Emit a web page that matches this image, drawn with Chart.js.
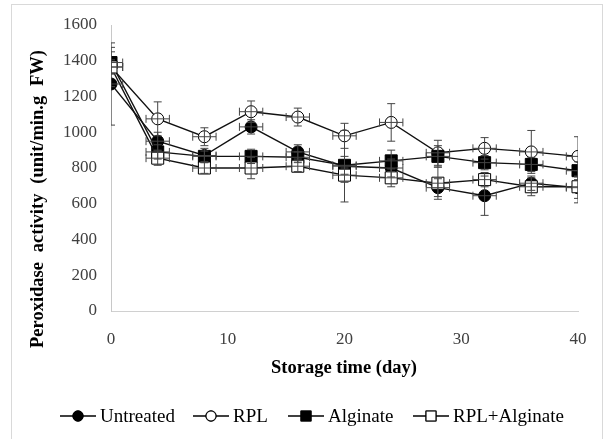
<!DOCTYPE html>
<html>
<head>
<meta charset="utf-8">
<script src="https://cdn.jsdelivr.net/npm/chart.js@4"></script>
<style>
  html, body { margin: 0; padding: 0; background: #fff; }
  #wrap { position: relative; width: 606px; height: 439px; }
  #frame { position: absolute; left: 11px; top: 4px; width: 592px; height: 440px; border: 1px solid #d9d9d9; box-sizing: border-box; }
  canvas { position: absolute; left: 0; top: 0; }
</style>
</head>
<body>
<div id="wrap">
  <div id="frame"></div>
  <canvas id="chart" width="606" height="439"></canvas>
</div>
<script>
// Storage days and peroxidase activity (unit/min.g FW)
const days = [0, 4, 8, 12, 16, 20, 24, 28, 32, 36, 40];
const untreated    = [1270, 950, 870, 1030, 890, 810, 800, 690, 645, 715, 690];
const untreatedErr = [230, 50, 40, 40, 40, 200, 50, 50, 110, 40, 60];
const rpl          = [1365, 1075, 975, 1115, 1085, 980, 1055, 885, 910, 890, 865];
const rplErr       = [110, 95, 50, 60, 50, 70, 105, 70, 60, 120, 110];
const alginate     = [1390, 890, 865, 865, 860, 815, 840, 865, 830, 820, 785];
const alginateErr  = [60, 40, 30, 40, 30, 50, 60, 60, 40, 40, 50];
const rplAlg       = [1365, 855, 800, 800, 810, 760, 745, 715, 735, 695, 695];
const rplAlgErr    = [40, 40, 30, 60, 30, 40, 50, 90, 40, 50, 90];
const dayErr = 1;

const xTicks = [0, 10, 20, 30, 40];
const yTicks = [0, 200, 400, 600, 800, 1000, 1200, 1400, 1600];

const SERIF = '"Liberation Serif", "Times New Roman", serif';

function points(values) {
  return values.map((v, i) => ({ x: days[i], y: v }));
}

function series(label, values, errs, style, filled, order) {
  return {
    label: label,
    data: points(values),
    yErr: errs,
    showLine: true,
    borderColor: '#111',
    borderWidth: 1.4,
    pointStyle: style,
    pointRadius: style === 'rect' ? 8.5 : 6,
    pointBackgroundColor: filled ? '#000' : '#fff',
    pointBorderColor: '#000',
    pointBorderWidth: 1,
    order: order
  };
}

// error bars (vertical and horizontal) drawn on top of the markers
const errorBars = {
  id: 'errorBars',
  afterDatasetsDraw(chart) {
    const { ctx, chartArea, scales: { x, y } } = chart;
    ctx.save();
    ctx.beginPath();
    ctx.rect(chartArea.left, 0, chartArea.right - chartArea.left, chart.height);
    ctx.clip();
    ctx.strokeStyle = '#444';
    ctx.lineWidth = 1;
    const cap = 4;
    chart.data.datasets.forEach(ds => {
      ds.data.forEach((p, j) => {
        const px = x.getPixelForValue(p.x);
        const py = y.getPixelForValue(p.y);
        const top = y.getPixelForValue(p.y + ds.yErr[j]);
        const bot = y.getPixelForValue(p.y - ds.yErr[j]);
        const l = x.getPixelForValue(p.x - dayErr);
        const r = x.getPixelForValue(p.x + dayErr);
        ctx.beginPath();
        ctx.moveTo(px, top); ctx.lineTo(px, bot);
        ctx.moveTo(px - cap, top); ctx.lineTo(px + cap, top);
        ctx.moveTo(px - cap, bot); ctx.lineTo(px + cap, bot);
        ctx.moveTo(l, py); ctx.lineTo(r, py);
        ctx.moveTo(l, py - cap); ctx.lineTo(l, py + cap);
        ctx.moveTo(r, py - cap); ctx.lineTo(r, py + cap);
        ctx.stroke();
      });
    });
    ctx.restore();
  }
};

// axis titles and the bottom legend
const decorations = {
  id: 'decorations',
  afterDraw(chart) {
    const { ctx } = chart;
    ctx.save();
    ctx.fillStyle = '#000';
    ctx.textBaseline = 'middle';

    // x title
    ctx.font = 'bold 18.5px ' + SERIF;
    ctx.textAlign = 'center';
    ctx.fillText('Storage time (day)', 344, 368);

    // y title, words spread over a fixed length
    const words = ['Peroxidase', 'activity', '(unit/min.g', 'FW)'];
    const total = 298;
    const widths = words.map(w => ctx.measureText(w).width);
    const sum = widths.reduce((a, b) => a + b, 0);
    const gap = (total - sum) / (words.length - 1);
    ctx.translate(38, 199);
    ctx.rotate(-Math.PI / 2);
    ctx.textAlign = 'left';
    let pos = -total / 2;
    words.forEach((w, i) => {
      ctx.fillText(w, pos, 0);
      pos += widths[i] + gap;
    });
    ctx.setTransform(1, 0, 0, 1, 0, 0);

    // legend
    const items = [
      { ds: 3, x: 60 },
      { ds: 2, x: 193 },
      { ds: 1, x: 288 },
      { ds: 0, x: 413 }
    ];
    const ly = 416;
    ctx.font = '19px ' + SERIF;
    ctx.textAlign = 'left';
    items.forEach(it => {
      const ds = chart.data.datasets[it.ds];
      ctx.strokeStyle = '#000';
      ctx.lineWidth = 1.3;
      ctx.beginPath();
      ctx.moveTo(it.x, ly); ctx.lineTo(it.x + 36, ly);
      ctx.stroke();
      Chart.helpers.drawPoint(ctx, {
        pointStyle: ds.pointStyle,
        radius: ds.pointStyle === 'rect' ? 7 : 5,
        borderWidth: 1
      }, it.x + 18, ly);
      ctx.fillStyle = ds.pointBackgroundColor;
      ctx.strokeStyle = '#000';
      ctx.lineWidth = 1;
      ctx.fill();
      ctx.stroke();
      ctx.fillStyle = '#000';
      ctx.fillText(ds.label, it.x + 40, ly + 1);
    });
    ctx.restore();
  }
};

new Chart(document.getElementById('chart'), {
  type: 'scatter',
  data: {
    datasets: [
      series('RPL+Alginate', rplAlg, rplAlgErr, 'rect', false, 1),
      series('Alginate', alginate, alginateErr, 'rect', true, 2),
      series('RPL', rpl, rplErr, 'circle', false, 3),
      series('Untreated', untreated, untreatedErr, 'circle', true, 4)
    ]
  },
  options: {
    responsive: false,
    animation: false,
    layout: { padding: { top: 25, right: 28, bottom: 0, left: 0 } },
    plugins: { legend: { display: false }, tooltip: { enabled: false } },
    scales: {
      x: {
        type: 'linear',
        min: 0, max: 40,
        afterBuildTicks: s => { s.ticks = xTicks.map(v => ({ value: v })); },
        afterFit: s => { s.height = 128; },
        grid: { display: false, drawTicks: false },
        border: { color: '#d0d0d0', width: 1 },
        ticks: { color: '#404040', padding: 18, font: { family: SERIF, size: 17 }, callback: v => String(v) }
      },
      y: {
        min: 0, max: 1600,
        afterBuildTicks: s => { s.ticks = yTicks.map(v => ({ value: v })); },
        afterFit: s => { s.width = 111; },
        grid: { display: false, drawTicks: false },
        border: { color: '#c8c8c8', width: 1 },
        ticks: { color: '#404040', padding: 14, font: { family: SERIF, size: 17 }, callback: v => String(v) }
      }
    }
  },
  plugins: [errorBars, decorations]
});
</script>
</body>
</html>
